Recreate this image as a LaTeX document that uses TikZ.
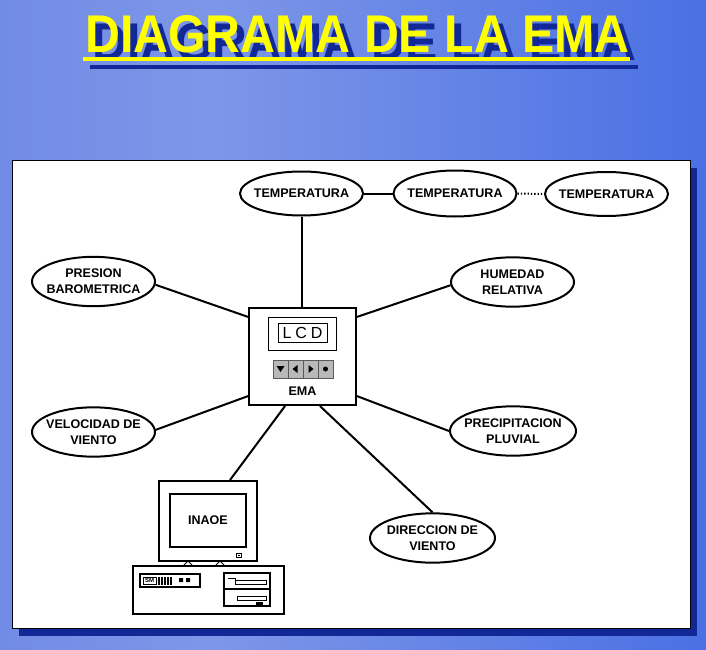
\documentclass[tikz,border=0pt]{standalone}
\usepackage{fontspec}
\setmainfont{Liberation Sans}
\usepackage{xcolor}
\usetikzlibrary{shapes.geometric,calc,positioning}
\definecolor{titleyellow}{RGB}{255,255,0}
\definecolor{shadownavy}{RGB}{18,40,150}
\pgfdeclarehorizontalshading{bgblue}{100bp}{rgb(0bp)=(0.37,0.48,0.89); rgb(40bp)=(0.49,0.59,0.91); rgb(100bp)=(0.15,0.33,0.88)}
\newcommand{\emaheading}{\scalebox{0.91}[1]{DIAGRAMA DE LA EMA}}

\begin{document}
\begin{tikzpicture}[x=0.75pt,y=-0.75pt,
	sensor/.style={ellipse,draw,line width=1.5pt,fill=white,inner xsep=-6pt,inner ysep=0pt,minimum width=92.25pt,minimum height=37pt,align=center,font=\bfseries\fontsize{9.4}{12}\selectfont},
	link/.style={line width=1.5pt},
	keycap/.style={fill=gray!55,draw=gray!70!black,line width=0.5pt},
	titletext/.style={anchor=base,font=\bfseries\fontsize{39.8}{40}\selectfont,inner sep=0pt}]
	\useasboundingbox (0,0) rectangle (706,649);
	\shade[shading=bgblue] (0,0) rectangle (706,649);
	% title with shadow
	\fill[shadownavy] (90,65) rectangle (638,69);
	\node[titletext,text=titleyellow] (title) at (357.5,53) {\makebox[0pt][l]{\hspace*{5.25pt}\raisebox{-6pt}{\color{shadownavy}\emaheading}}\emaheading};
	\fill[titleyellow] (83,57) rectangle (630,61);
	% white panel
	\fill[shadownavy] (19,168) rectangle (697,636);
	\draw[fill=white,line width=0.75pt] (12,161) rectangle (690,628);
	% station box
	\node[draw,line width=1.5pt,fill=white,minimum width=80.25pt,minimum height=72.75pt,inner sep=0pt] (ema) at (302.5,356.5) {};
	\draw[line width=0.75pt] (268,317) rectangle (336,350);
	\node[draw,line width=0.75pt,minimum width=36.75pt,minimum height=14.25pt,inner sep=0pt,font=\fontsize{12}{12}\selectfont] (lcd) at (302.5,332.5) {L\hspace{3pt}C\hspace{3pt}D};
	\foreach \i in {0,...,3}
		\draw[keycap] (273+15*\i,360) rectangle ++(15,18);
	\fill (276.5,366) -- (284.5,366) -- (280.5,372) -- cycle;
	\fill (297.5,365) -- (297.5,373) -- (292.5,369) -- cycle;
	\fill (308.5,365) -- (308.5,373) -- (313.5,369) -- cycle;
	\fill (325.5,369) circle (2.5);
	\node[font=\bfseries\fontsize{9.4}{12}\selectfont] (emalabel) at (302.5,391) {EMA};
	% sensors
	\node[sensor,minimum height=33pt] (tempA) at (301.5,193.5) {TEMPERATURA};
	\node[sensor,minimum height=34.5pt] (tempB) at (455,193.5) {TEMPERATURA};
	\node[sensor,minimum height=33pt] (tempC) at (606.5,194) {TEMPERATURA};
	\node[sensor] (hum) at (512.5,282) {HUMEDAD\\RELATIVA};
	\node[sensor] (pres) at (93.5,281.5) {PRESION\\BAROMETRICA};
	\node[sensor] (vel) at (93.5,432) {VELOCIDAD DE\\VIENTO};
	\node[sensor,minimum width=94.5pt] (prec) at (513,431) {PRECIPITACION\\PLUVIAL};
	\node[sensor,minimum width=93.75pt] (dir) at (432.5,538) {DIRECCION DE\\VIENTO};
	% computer
	\node[draw,line width=1.5pt,fill=white,minimum width=73.5pt,minimum height=60pt,inner sep=0pt] (mon) at (208,521) {};
	\node[draw,line width=1.5pt,minimum width=57pt,minimum height=39.75pt,inner sep=0pt,font=\bfseries\fontsize{9.4}{12}\selectfont] (screen) at (208,520.5) {INAOE};
	\draw[line width=0.75pt] (236,553) rectangle (241,557);
	\fill (237.5,554.5) rectangle (239.5,556);
	\draw[line width=0.75pt] (183,566) -- (188,561) -- (193,566) (215,566) -- (220,561) -- (225,566);
	\node[draw,line width=1.5pt,minimum width=113.25pt,minimum height=36pt,inner sep=0pt] (case) at (208.5,590) {};
	\draw[line width=1pt] (140,574) rectangle (200,587);
	\node[draw,line width=0.75pt,minimum width=9.75pt,minimum height=5.25pt,inner sep=0pt,font=\bfseries\fontsize{4.5}{5}\selectfont] (smlogo) at (149.5,580.5) {SM};
	\foreach \x in {159,162,...,171}
		\draw[line width=1.2pt] (\x,577) -- (\x,585);
	\fill (179,578) rectangle (183,582) (186,578) rectangle (190,582);
	\draw[line width=1pt] (224,573) rectangle (270,606) (224,589) -- (270,589);
	\draw[line width=0.75pt] (228,578) -- (235,578) -- (235,580) (235,580) rectangle (266,584);
	\draw[line width=0.75pt] (237,596) rectangle (266,600);
	\fill (256,602) rectangle (263,604.5);
	% connectors
	\draw[link] (tempA) -- (tempA |- ema.north);
	\draw[link] (tempA) -- (tempB);
	\draw[link,dash pattern=on 1pt off 1.5pt] (tempB) -- (tempC);
	\draw[link] (pres.-3) -- ($(ema.north west)!0.1!(ema.south west)$);
	\draw[link] (hum.183) -- ($(ema.north east)!0.1!(ema.south east)$);
	\draw[link] (vel.2) -- ($(ema.north west)!0.9!(ema.south west)$);
	\draw[link] (prec.west) -- ($(ema.north east)!0.9!(ema.south east)$);
	\draw[link] ($(ema.south west)!0.66!(ema.south east)$) -- (dir.north);
	\draw[link] ($(ema.south west)!0.34!(ema.south east)$) -- ($(mon.north west)!0.72!(mon.north east)$);
\end{tikzpicture}
\end{document}
